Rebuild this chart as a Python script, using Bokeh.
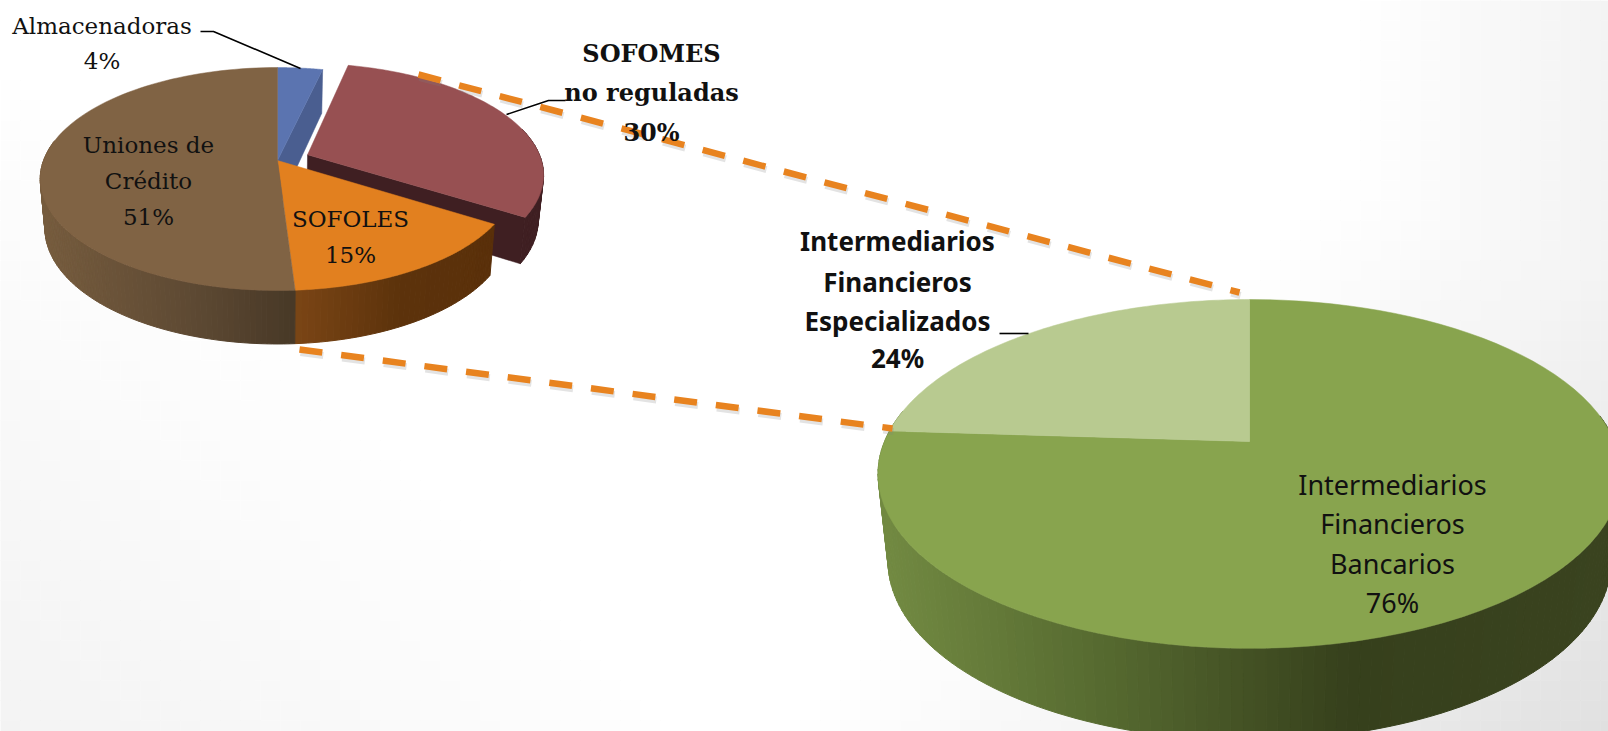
import numpy as np
from bokeh.plotting import figure
from bokeh.models import Range1d
from bokeh.core.properties import value
from bokeh.embed import file_html
from bokeh.resources import INLINE

# ---- data ----
small_names = ["Almacenadoras", "SOFOMES no reguladas", "SOFOLES", "Uniones de Crédito"]
small_values = [3.6, 30.4, 15, 51]
big_names = ["Intermediarios Financieros Bancarios", "Intermediarios Financieros Especializados"]
big_values = [76, 24]

small_labels = [["Almacenadoras", "4%"], ["SOFOMES", "no reguladas", "30%"], ["SOFOLES", "15%"],
                ["Uniones de", "Crédito", "51%"]]
big_labels = [["Intermediarios", "Financieros", "Bancarios", "76%"],
              ["Intermediarios", "Financieros", "Especializados", "24%"]]

# ---- styles / layout ----
W, H = 1608, 731
SERIF, SANS = "DejaVu Serif", "Noto Sans"
ORANGE = "#e8831f"


def hex2rgb(h):
    return np.array([int(h[i:i + 2], 16) for i in (1, 3, 5)], float)


def ramp(x, xs, cols):
    c = np.array([hex2rgb(k) for k in cols])
    return "#%02x%02x%02x" % tuple(int(round(np.interp(x, xs, c[:, i]))) for i in range(3))


p = figure(width=W, height=H, output_backend="svg", toolbar_location=None,
           x_range=Range1d(0, W), y_range=Range1d(H, 0), min_border=0,
           outline_line_color=None, background_fill_color="white")
p.axis.visible = False
p.grid.visible = False

# page background: white centre, greying towards the corners
CELL = 20
gx, gy = np.meshgrid(np.arange(0, W, CELL), np.arange(0, H, CELL))
gx, gy = gx.ravel(), gy.ravel()
mx, my = gx + CELL / 2, gy + CELL / 2
lev1 = 12 * np.clip((mx - 1350) / 258, 0, 1)
lev2 = 31 * np.clip((mx + my - 1500) / 839, 0, 1) ** 1.2
lev3 = 12 * np.clip(1 - (mx + (H - my)) / 700, 0, 1)
lev = np.maximum(np.maximum(lev1, lev2), lev3)
cols = ["#%02x%02x%02x" % (255 - int(round(v)),) * 3 if False else "#" + ("%02x" % (255 - int(round(v)))) * 3 for v in lev]
p.quad(left=gx, right=gx + CELL, top=gy, bottom=gy + CELL, fill_color=cols, line_color=cols, line_width=0.6)


class Disc:
    """A pie's top face seen in perspective (angles are clockwise from 12 o'clock)."""

    def __init__(self, cx, cy, R, S, k, d0, d1, shrink):
        self.cx, self.cy, self.R, self.S, self.k = cx, cy, R, S, k
        self.d0, self.d1, self.shrink = d0, d1, shrink

    def top(self, a, r=1.0, ox=0.0, oy=0.0):
        X = r * np.sin(a) + ox
        Y = -r * np.cos(a) + oy
        w = 1 + self.k * Y
        return self.cx + self.R * X / w, self.cy + self.S * Y / w, Y

    def bottom(self, a, r=1.0, ox=0.0, oy=0.0):
        x, y, Y = self.top(a, r, ox, oy)
        return self.cx + self.shrink * (x - self.cx), y + self.d0 + self.d1 * Y

    def arc(self, a0, a1, n=90, **kw):
        t = np.linspace(a0, a1, n)
        x, y, _ = self.top(t, **kw)
        return x, y

    def wedge(self, a0, a1, color, ox=0.0, oy=0.0):
        x, y = self.arc(a0, a1, ox=ox, oy=oy)
        ax, ay, _ = self.top(0.0, r=0.0, ox=ox, oy=oy)
        p.patch(np.r_[ax, x], np.r_[ay, y], fill_color=color, line_color=color, line_width=0.5)

    def side(self, a0, a1, xs, cols, n=70, ox=0.0, oy=0.0):
        t = np.linspace(a0, a1, n + 1)
        for i in range(n):
            x0, y0, _ = self.top(t[i], ox=ox, oy=oy)
            x1, y1, _ = self.top(t[i + 1], ox=ox, oy=oy)
            x2, y2 = self.bottom(t[i + 1], ox=ox, oy=oy)
            x3, y3 = self.bottom(t[i], ox=ox, oy=oy)
            c = ramp((x0 + x1) / 2, xs, cols)
            p.patch([x0, x1, x2, x3], [y0, y1, y2, y3], fill_color=c, line_color=c, line_width=1)

    def cut(self, a, color, ox=0.0, oy=0.0):
        x0, y0, _ = self.top(a, ox=ox, oy=oy)
        x1, y1 = self.bottom(a, ox=ox, oy=oy)
        ax, ay, _ = self.top(0.0, r=0.0, ox=ox, oy=oy)
        bx, by = self.bottom(0.0, r=0.0, ox=ox, oy=oy)
        p.patch([ax, x0, x1, bx], [ay, y0, y1, by], fill_color=color, line_color=color, line_width=0.5)


def edges(vals):
    v = np.r_[0, np.cumsum(vals)] / np.sum(vals)
    return v * 2 * np.pi


# ---- small pie ----
small = Disc(277, 160, 234, 108.4, -0.166, 48.5, 5, 0.98)
e = edges(small_values)
BLUE_T, BLUE_D = "#5b74b0", "#4a5e90"
RED_T, RED_D = "#975052", "#3f1f22"
ORANGE_T, BROWN_T = "#e2801f", "#806344"

mid = (e[1] + e[2]) / 2
ex = 0.14
ox, oy = ex * np.sin(mid), -ex * np.cos(mid)
small.d0 = 44
small.cut(e[2], RED_D, ox, oy)
small.side(0.42 * np.pi, e[2], [0, 2000], [RED_D, RED_D], 20, ox, oy)
small.d0 = 48.5
small.wedge(e[1], e[2], RED_T, ox, oy)

small.cut(e[1], BLUE_D)
small.wedge(e[0], e[1], BLUE_T)

small.side(e[2], e[3], [296, 400, 500], ["#7a4515", "#5c320b", "#5a300a"], 40)
small.side(e[3], 1.56 * np.pi, [40, 200, 296], ["#765c3e", "#5c4832", "#473826"], 90)
small.wedge(e[2], e[3], ORANGE_T)
small.wedge(e[3], e[4], BROWN_T)

# ---- big pie ----
big = Disc(1249, 441, 365, 168.4, -0.186, 86, 6, 0.973)
e2 = edges(big_values)
big.side(np.pi * 0.45, np.pi * 1.56, [878, 1100, 1350, 1620], ["#728a42", "#566a30", "#36401c", "#3a431f"], 130)
big.wedge(e2[0], e2[1], "#88a44e")
big.wedge(e2[1], e2[2], "#b8ca90")

# ---- dashed connectors (with a faint shadow) ----
for x0, y0, x1, y1 in [(418, 74, 1239, 292), (299, 349, 892, 428)]:
    p.line([x0 + 1, x1 + 1], [y0 + 3, y1 + 3], line_color="#808080", line_alpha=0.22, line_width=7, line_dash="23 19")
    p.line([x0, x1], [y0, y1], line_color=ORANGE, line_width=6.5, line_dash="23 19")

# ---- leader lines ----
for xs, ys in [([200, 213, 300], [31, 31, 68]), ([565, 548, 506], [100, 100, 114]), ([999, 1028], [333, 333])]:
    p.line(xs, ys, line_color="black", line_width=1.6)


def label(x, ys, lines, font, size, style="normal", color="#111111"):
    p.text([x] * len(lines), ys, text=lines, text_font=value(font), text_font_size=f"{size}px",
           text_font_style=style, text_align="center", text_baseline="middle", text_color=color)


label(101.5, [25, 60], small_labels[0], SERIF, 23)
label(651, [53, 92, 132], small_labels[1], SERIF, 24, "bold")
label(350, [218, 254], small_labels[2], SERIF, 23)
label(148, [144, 180, 216], small_labels[3], SERIF, 23)
label(1392, [484, 523, 563, 602], big_labels[0], SANS, 27)
label(897, [240, 281, 320, 357], big_labels[1], SANS, 26, "bold")

open("out.html", "w").write(file_html(p, INLINE))
